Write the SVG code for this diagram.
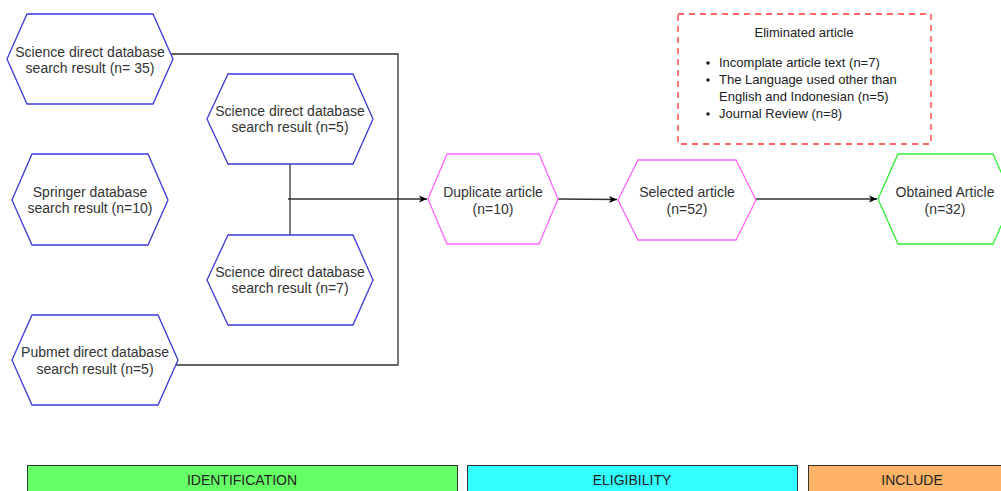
<svg xmlns="http://www.w3.org/2000/svg" width="1001" height="491" viewBox="0 0 1001 491">
<style>
.hb{fill:#fff;stroke:#3a3ad6;stroke-width:1.3}
.hp{fill:#fff;stroke:#ff66ff;stroke-width:1.3}
.hg{fill:#fff;stroke:#33ee33;stroke-width:1.3}
.t{font-family:"Liberation Sans",Arial,sans-serif;font-size:14px;fill:#333;text-anchor:middle}
.s{font-family:"Liberation Sans",Arial,sans-serif;font-size:13px;fill:#222}
.c{fill:none;stroke:#333;stroke-width:1.3}
.bar{stroke:#333;stroke-width:1}
.bt{font-family:"Liberation Sans",Arial,sans-serif;font-size:14px;fill:#222;text-anchor:middle}
</style>
<defs>
<marker id="ar" markerWidth="10" markerHeight="10" refX="8" refY="4" orient="auto" markerUnits="userSpaceOnUse">
<path d="M0,0.5 L8,4 L0,7.5 L2,4 z" fill="#000"/>
</marker>
</defs>
<g id="connectors">
<polyline class="c" points="171,54 398,54 398,365 176,365"/>
<line class="c" x1="290" y1="164" x2="290" y2="235"/>
<line class="c" x1="288" y1="199" x2="427" y2="199" marker-end="url(#ar)"/>
<line class="c" x1="558" y1="199" x2="617" y2="199.5" marker-end="url(#ar)"/>
<line class="c" x1="756" y1="199" x2="877" y2="199" marker-end="url(#ar)"/>
</g>
<g id="n-sd35">
<polygon class="hb" points="7,59 27,14 153,14 173,59 153,104 27,104"/>
<text class="t" x="90" y="57">Science direct database</text>
<text class="t" x="90" y="73">search result (n= 35)</text>
</g>
<g id="n-springer">
<polygon class="hb" points="12,200 32,154 148,154 168,200 148,245 32,245"/>
<text class="t" x="90" y="197">Springer database</text>
<text class="t" x="90" y="213">search result (n=10)</text>
</g>
<g id="n-sd5">
<polygon class="hb" points="207,119 228,74 353,74 373,119 353,164 228,164"/>
<text class="t" x="290" y="116">Science direct database</text>
<text class="t" x="290" y="132">search result (n=5)</text>
</g>
<g id="n-sd7">
<polygon class="hb" points="207,280 228,235 353,235 373,280 353,325 228,325"/>
<text class="t" x="290" y="277">Science direct database</text>
<text class="t" x="290" y="293">search result (n=7)</text>
</g>
<g id="n-pubmet">
<polygon class="hb" points="12,360 32,315 158,315 178,360 158,405 32,405"/>
<text class="t" x="95" y="357">Pubmet direct database</text>
<text class="t" x="95" y="374">search result (n=5)</text>
</g>
<g id="n-duplicate">
<polygon class="hp" points="428,199 447,154 539,154 558,199 539,244 447,244"/>
<text class="t" x="493" y="197">Duplicate article</text>
<text class="t" x="493" y="214">(n=10)</text>
</g>
<g id="n-selected">
<polygon class="hp" points="618,200 638,160 736,160 756,200 736,240 638,240"/>
<text class="t" x="687" y="197">Selected article</text>
<text class="t" x="687" y="214">(n=52)</text>
</g>
<g id="n-obtained">
<polygon class="hg" points="878,199 898,154 993,154 1013,199 993,244 898,244"/>
<text class="t" x="945" y="197">Obtained Article</text>
<text class="t" x="945" y="214">(n=32)</text>
</g>
<g id="n-eliminated">
<rect x="678" y="14" width="253" height="130" fill="#fff" stroke="#ff3333" stroke-width="1.3" stroke-dasharray="6,5"/>
<text class="s" x="804" y="37" text-anchor="middle">Eliminated article</text>
<circle cx="708" cy="63" r="1.8" fill="#222"/>
<circle cx="708" cy="80" r="1.8" fill="#222"/>
<circle cx="708" cy="114" r="1.8" fill="#222"/>
<text class="s" x="719" y="67">Incomplate article text (n=7)</text>
<text class="s" x="719" y="84">The Language used other than</text>
<text class="s" x="719" y="101">English and Indonesian (n=5)</text>
<text class="s" x="719" y="118">Journal Review (n=8)</text>
</g>
<g id="bar-identification">
<rect class="bar" x="27.5" y="465.5" width="430" height="30" fill="#66ff66"/>
<text class="bt" x="242" y="485">IDENTIFICATION</text>
</g>
<g id="bar-eligibility">
<rect class="bar" x="467.5" y="465.5" width="330" height="30" fill="#33ffff"/>
<text class="bt" x="632" y="485">ELIGIBILITY</text>
</g>
<g id="bar-include">
<rect class="bar" x="808.5" y="465.5" width="210" height="30" fill="#ffb366"/>
<text class="bt" x="912" y="485">INCLUDE</text>
</g>
</svg>
